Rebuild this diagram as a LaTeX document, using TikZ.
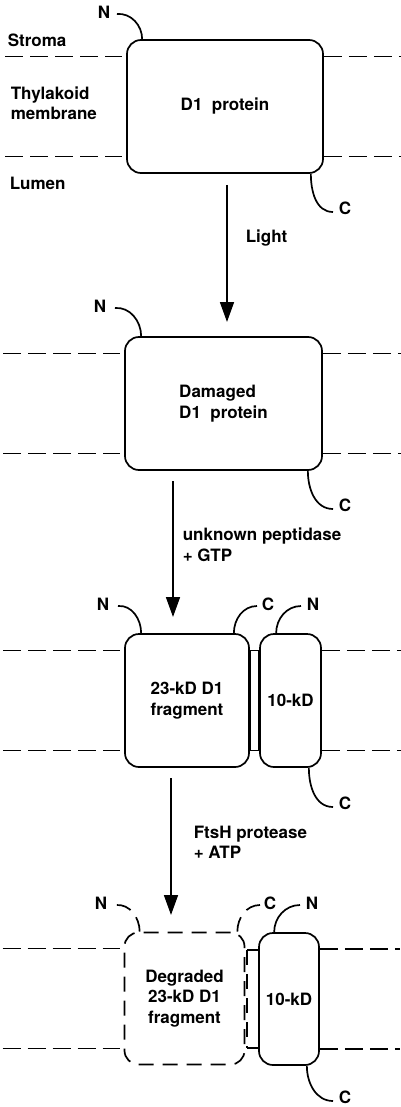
\documentclass[tikz,border=0pt]{standalone}
\usepackage{fontspec}
\setmainfont{TeX Gyre Heros}
\usetikzlibrary{arrows.meta}

\begin{document}
\begin{tikzpicture}[x=1pt,y=-1pt, line width=1.7pt,
		font=\bfseries\fontsize{17}{20.5}\selectfont,
		prot/.style={draw, rounded corners=14pt, align=center, inner sep=0pt},
		memb/.style={dash pattern=on 18pt off 7pt},
		gone/.style={dash pattern=on 15pt off 9pt},
		lab/.style={inner sep=0pt},
		tip/.style={-{Triangle[length=20pt,width=14pt]}}]
	\useasboundingbox (0,0) rectangle (400,1107);

	% side labels
	\node[lab, anchor=west] (stroma) at (7,40) {Stroma};
	\node[lab, anchor=west, align=left] (thyl) at (10,103) {Thylakoid\\membrane};
	\node[lab, anchor=west] (lumen) at (9,183) {Lumen};

	% intact D1
	\node[prot, minimum width=196pt, minimum height=133pt] (d1) at (225,106.5) {D1\ \ protein};
	\node[lab] (n1) at (104,12) {N};
	\node[lab] (c1) at (345,208) {C};
	\draw ([xshift=16pt]d1.north west) to[out=90,in=5] ([xshift=6pt,yshift=-2pt]n1.east);
	\draw ([xshift=-13pt]d1.south east) to[out=-90,in=180] ([xshift=-5pt,yshift=-4pt]c1.west);

	% damaged D1
	\node[prot, minimum width=197pt, minimum height=133pt, align=left] (dam) at (223.5,403.5) {Damaged\\D1\ \ protein};
	\node[lab] (n2) at (100,306) {N};
	\node[lab] (c2) at (345,505) {C};
	\draw ([xshift=17pt]dam.north west) to[out=90,in=5] ([xshift=8pt,yshift=-2pt]n2.east);
	\draw ([xshift=-15pt]dam.south east) to[out=-90,in=180] ([xshift=-5pt,yshift=-4pt]c2.west);

	% cleaved: 23-kD and 10-kD
	\node[prot, minimum width=124pt, minimum height=133pt] (frag) at (187,700.5) {23-kD D1\\fragment};
	\node[prot, minimum width=61pt, minimum height=133pt] (ka) at (290.5,700.5) {10-kD};
	\draw ([yshift=50pt]frag.east) rectangle ([yshift=-50pt]ka.west);
	\node[lab] (n3) at (103,604) {N};
	\node[lab] (c3) at (268,604) {C};
	\node[lab] (n4) at (313,604) {N};
	\node[lab] (c4) at (345,803) {C};
	\draw ([xshift=17pt]frag.north west) to[out=90,in=5] ([xshift=8pt,yshift=-2pt]n3.east);
	\draw ([xshift=-16pt]frag.north east) to[out=90,in=180] ([xshift=-4pt,yshift=-2pt]c3.west);
	\draw ([xshift=17pt]ka.north west) to[out=90,in=180] ([xshift=-5pt,yshift=-2pt]n4.west);
	\draw ([xshift=-13pt]ka.south east) to[out=-90,in=180] ([xshift=-5pt,yshift=-4pt]c4.west);

	% degraded 23-kD, 10-kD left
	\node[prot, gone, minimum width=120pt, minimum height=132pt] (deg) at (184.5,998.5) {Degraded\\23-kD D1\\fragment};
	\node[prot, minimum width=60pt, minimum height=132pt] (kb) at (289,999) {10-kD};
	\draw ([yshift=49pt]kb.west) -- ++(-11,0);
	\draw ([yshift=-49pt]kb.west) -- ++(-11,0);
	\draw[gone] ([shift={(-11,-49)}]kb.west) -- ([shift={(-11,49)}]kb.west);
	\node[lab] (n5) at (101,903) {N};
	\node[lab] (c5) at (270,903) {C};
	\node[lab] (n6) at (312,903) {N};
	\node[lab] (c6) at (345,1097) {C};
	\draw[gone] ([xshift=16pt]deg.north west) to[out=90,in=5] ([xshift=8pt,yshift=-2pt]n5.east);
	\draw[gone] ([xshift=-8pt]deg.north east) to[out=90,in=180] ([xshift=-3pt,yshift=-2pt]c5.west);
	\draw ([xshift=16pt]kb.north west) to[out=90,in=180] ([xshift=-5pt,yshift=-2pt]n6.west);
	\draw ([xshift=-13pt]kb.south east) to[out=-90,in=180] ([xshift=-5pt,yshift=-4pt]c6.west);

	% membrane
	\foreach \l/\r in {d1/d1, dam/dam, frag/ka, deg/kb}
		\foreach \dy in {-50,50} {
			\draw[memb] ([xshift=-4pt,yshift=\dy pt]\l.west) +(-117,0) -- +(0,0);
			\draw[memb] ([yshift=\dy pt]\r.east) -- +(80,0);
		}

	% steps
	\coordinate (s1) at (227,185);
	\coordinate (e1) at (227,322);
	\coordinate (s2) at (173,481);
	\coordinate (e2) at (173,617);
	\coordinate (s3) at (171,778);
	\coordinate (e3) at (171,915);
	\draw[tip] (s1) -- (e1);
	\draw[tip] (s2) -- (e2);
	\draw[tip] (s3) -- (e3);
	\node[lab, anchor=west] (light) at (245,238) {Light};
	\node[lab, anchor=west, align=left] (pep) at (182,545) {unknown peptidase\\+ GTP};
	\node[lab, anchor=west, align=left] (ftsh) at (193,842.5) {FtsH protease\\+ ATP};

\end{tikzpicture}
\end{document}
